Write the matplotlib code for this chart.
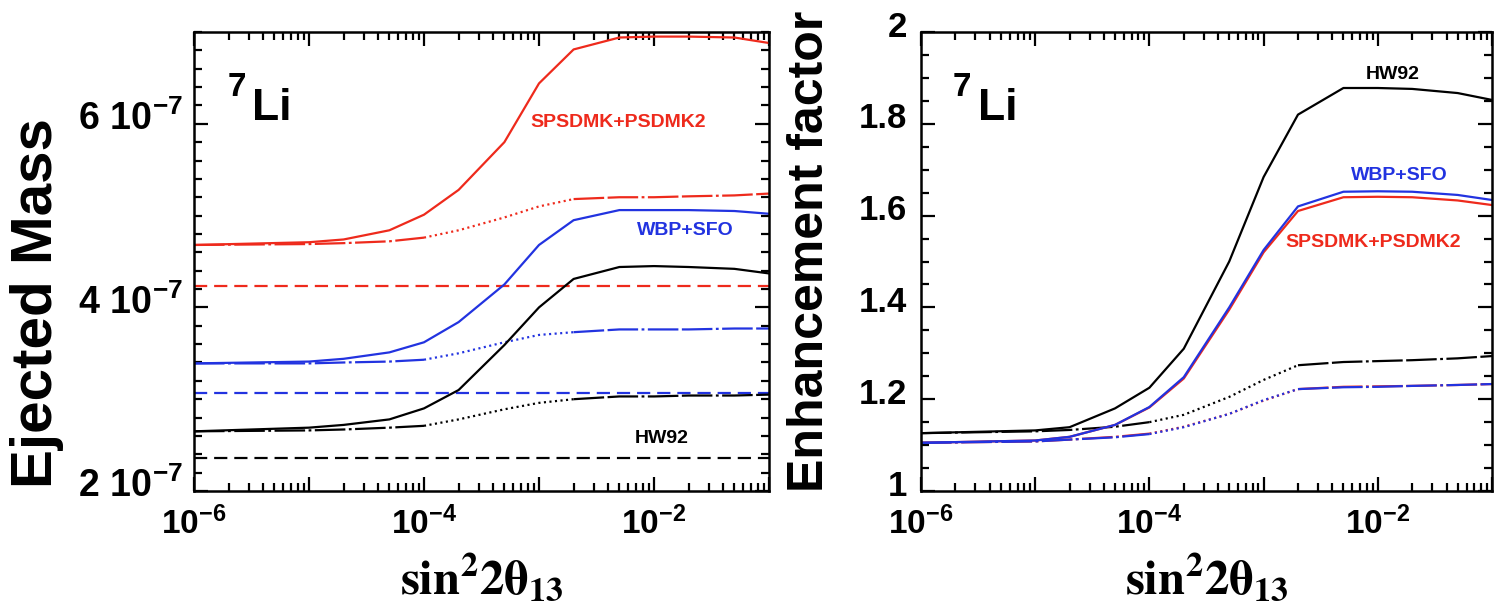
import numpy as np
import matplotlib
matplotlib.use("Agg")
import matplotlib.pyplot as plt
from matplotlib.ticker import FixedLocator, FixedFormatter, FuncFormatter, NullFormatter, LogLocator, MultipleLocator
from matplotlib.transforms import ScaledTranslation

plt.rcParams['font.family'] = ['Liberation Sans', 'DejaVu Sans']
plt.rcParams['mathtext.fontset'] = 'custom'
plt.rcParams['mathtext.rm'] = 'Liberation Sans:bold'
plt.rcParams['mathtext.bf'] = 'Liberation Sans:bold'
plt.rcParams['mathtext.it'] = 'Liberation Sans:bold:italic'
plt.rcParams['lines.scale_dashes'] = False

# sin^2 2theta13 grid
sin2 = [1e-6, 1e-5, 2e-5, 5e-5, 1e-4, 2e-4, 5e-4, 1e-3, 2e-3, 5e-3, 1e-2, 2e-2, 5e-2, 1e-1]

# ejected 7Li mass, in units of 1e-7 Msun
mass_sps_normal = [4.68, 4.71, 4.74, 4.84, 5.01, 5.28, 5.80, 6.44, 6.81, 6.94, 6.95, 6.95, 6.94, 6.88]
mass_sps_inverted = [4.68, 4.69, 4.70, 4.72, 4.76, 4.84, 4.98, 5.10, 5.18, 5.20, 5.20, 5.21, 5.22, 5.24]
mass_sps_noosc = 4.23
mass_wbp_normal = [3.39, 3.41, 3.44, 3.51, 3.62, 3.84, 4.25, 4.68, 4.95, 5.06, 5.06, 5.06, 5.05, 5.02]
mass_wbp_inverted = [3.39, 3.39, 3.40, 3.41, 3.43, 3.50, 3.62, 3.70, 3.73, 3.76, 3.76, 3.76, 3.77, 3.77]
mass_wbp_noosc = 3.07
mass_hw_normal = [2.65, 2.69, 2.72, 2.78, 2.90, 3.10, 3.59, 4.00, 4.31, 4.44, 4.45, 4.44, 4.42, 4.37]
mass_hw_inverted = [2.65, 2.66, 2.67, 2.69, 2.71, 2.78, 2.89, 2.96, 3.00, 3.03, 3.03, 3.04, 3.04, 3.05]
mass_hw_noosc = 2.36
mass_unit = 1e-7

# enhancement factor relative to the no-oscillation yield
enh_hw_normal = [1.126, 1.132, 1.139, 1.180, 1.225, 1.310, 1.500, 1.684, 1.820, 1.878, 1.878, 1.876, 1.867, 1.852]
enh_hw_inverted = [1.126, 1.130, 1.133, 1.140, 1.150, 1.166, 1.205, 1.242, 1.274, 1.281, 1.283, 1.285, 1.289, 1.294]
enh_wbp_normal = [1.105, 1.110, 1.118, 1.144, 1.183, 1.248, 1.400, 1.525, 1.620, 1.652, 1.653, 1.652, 1.645, 1.634]
enh_wbp_inverted = [1.105, 1.108, 1.112, 1.117, 1.124, 1.139, 1.168, 1.198, 1.222, 1.226, 1.227, 1.229, 1.231, 1.233]
enh_sps_normal = [1.105, 1.110, 1.118, 1.144, 1.182, 1.245, 1.395, 1.520, 1.610, 1.640, 1.641, 1.640, 1.633, 1.623]
enh_sps_inverted = [1.105, 1.108, 1.112, 1.118, 1.125, 1.140, 1.168, 1.197, 1.222, 1.227, 1.228, 1.229, 1.231, 1.233]

RED = '#ee2a1c'
BLUE = '#2233e0'
BLACK = 'black'
LW = 1.6

fig = plt.figure(figsize=(14.95, 6.09), dpi=100)
ax1 = fig.add_axes([194/1495, 1-491/609, 575/1495, 459/609])
ax2 = fig.add_axes([921/1495, 1-491/609, 571/1495, 459/609])


def dashdot(ax, x, y, color):
    # the inverted-hierarchy curves: dash-dot at both ends, dotted in the rise
    x = np.asarray(x)
    y = np.asarray(y)
    lo = x <= 1e-4
    mid = (x >= 1e-4) & (x <= 2e-3)
    hi = x >= 2e-3
    ax.plot(x[lo], y[lo], color=color, lw=LW, ls=(0, (22, 2.5, 2, 2.5)))
    ax.plot(x[mid], y[mid], color=color, lw=LW, ls=(0, (1.5, 2.5)))
    ax.plot(x[hi], y[hi], color=color, lw=LW, ls=(0, (22, 2.5, 22, 2.5, 2, 2.5)))


def xfmt(v, pos):
    e = int(round(np.log10(v)))
    if e % 2 == 0:
        return r'$\mathbf{10^{%d}}$' % e
    return ''


def style_axes(ax):
    ax.set_xscale('log')
    ax.set_xlim(1e-6, 1e-1)
    ax.xaxis.set_major_locator(FixedLocator(10.0 ** np.arange(-6, 0)))
    ax.xaxis.set_minor_locator(LogLocator(base=10, subs=range(2, 10)))
    ax.xaxis.set_major_formatter(FuncFormatter(xfmt))
    ax.xaxis.set_minor_formatter(NullFormatter())
    ax.tick_params(which='both', direction='in', top=True, right=True, width=1.6)
    ax.tick_params(which='major', length=10)
    ax.tick_params(which='minor', length=5.5)
    ax.tick_params(axis='x', which='major', pad=11, labelsize=24)
    ax.tick_params(axis='y', which='major', pad=8, labelsize=27)
    for s in ax.spines.values():
        s.set_linewidth(1.8)


# left panel: ejected mass
for normal, inverted, noosc, c in [(mass_sps_normal, mass_sps_inverted, mass_sps_noosc, RED),
                                   (mass_wbp_normal, mass_wbp_inverted, mass_wbp_noosc, BLUE),
                                   (mass_hw_normal, mass_hw_inverted, mass_hw_noosc, BLACK)]:
    ax1.plot(sin2, np.array(normal) * mass_unit, color=c, lw=LW)
    dashdot(ax1, sin2, np.array(inverted) * mass_unit, c)
    ax1.axhline(noosc * mass_unit, color=c, lw=LW, ls=(0, (9.5, 5)))

style_axes(ax1)
ax1.set_ylim(2e-7, 7e-7)
ax1.yaxis.set_major_locator(FixedLocator([2e-7, 4e-7, 6e-7]))
ax1.yaxis.set_major_formatter(FixedFormatter([r'$\mathbf{2\ 10^{-7}}$', r'$\mathbf{4\ 10^{-7}}$', r'$\mathbf{6\ 10^{-7}}$']))
ax1.yaxis.set_minor_locator(MultipleLocator(0.2e-7))

ax1.text(4.9e-3, 6.01e-7, 'SPSDMK+PSDMK2', color=RED, fontsize=14, fontweight='bold', ha='center', va='center')
ax1.text(1.86e-2, 4.84e-7, 'WBP+SFO', color=BLUE, fontsize=14, fontweight='bold', ha='center', va='center')
ax1.text(1.17e-2, 2.57e-7, 'HW92', color=BLACK, fontsize=14, fontweight='bold', ha='center', va='center')

# right panel: enhancement factor
for normal, inverted, c in [(enh_hw_normal, enh_hw_inverted, BLACK),
                            (enh_sps_normal, enh_sps_inverted, RED),
                            (enh_wbp_normal, enh_wbp_inverted, BLUE)]:
    ax2.plot(sin2, normal, color=c, lw=LW)
    dashdot(ax2, sin2, inverted, c)

style_axes(ax2)
ax2.set_ylim(1, 2)
ax2.yaxis.set_major_locator(FixedLocator([1, 1.2, 1.4, 1.6, 1.8, 2]))
ax2.yaxis.set_major_formatter(FixedFormatter(['1', '1.2', '1.4', '1.6', '1.8', '2']))
ax2.yaxis.set_minor_locator(MultipleLocator(0.05))
ax2.tick_params(axis='y', which='major', labelsize=25, pad=10)
for lab in ax2.get_yticklabels():
    lab.set_fontweight('bold')

ax2.text(1.36e-2, 1.908, 'HW92', color=BLACK, fontsize=14, fontweight='bold', ha='center', va='center')
ax2.text(1.56e-2, 1.688, 'WBP+SFO', color=BLUE, fontsize=14, fontweight='bold', ha='center', va='center')
ax2.text(9.1e-3, 1.542, 'SPSDMK+PSDMK2', color=RED, fontsize=14, fontweight='bold', ha='center', va='center')

# isotope tag
for ax, x7, xli in [(ax1, 0.059, 0.101), (ax2, 0.056, 0.100)]:
    ax.text(x7, 0.913, '7', transform=ax.transAxes, fontsize=24, fontweight='bold', ha='left', va='top')
    ax.text(xli, 0.808, 'Li', transform=ax.transAxes, fontsize=32, fontweight='bold', ha='left', va='baseline')

# axis titles
fig.text(37/1495, 1-303/609, 'Ejected Mass', rotation=90, fontsize=42, fontweight='bold', ha='center', va='center')
fig.text(810/1495, 1-251/609, 'Enhancement factor', rotation=90, fontsize=36, fontweight='bold', ha='center', va='center')
for xc in [481.5, 1206.5]:
    fig.text(xc/1495, 1-553/609, r'$\mathbf{sin^{2}2\theta_{13}}$', math_fontfamily='stix',
             fontsize=35, ha='center', va='top')

# tick labels sit slightly above their ticks
for ax in (ax1, ax2):
    for lab in ax.get_yticklabels():
        lab.set_transform(lab.get_transform() + ScaledTranslation(0, 6/72, fig.dpi_scale_trans))

fig.savefig('out.png', dpi=100)
